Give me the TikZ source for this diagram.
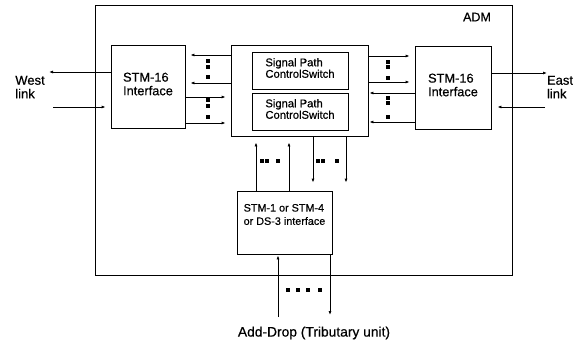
\documentclass[tikz,border=0pt]{standalone}
\usepackage{fontspec}
\setmainfont{Liberation Sans}[FakeBold=0.5]
\usetikzlibrary{arrows.meta}
\begin{document}
\begin{tikzpicture}[x=1pt,y=-1pt, line width=0.8pt,
  box/.style={draw, rectangle, inner sep=0pt},
  txt/.style={align=left, inner sep=0pt},
  stmtext/.style={txt, font=\fontsize{12.8}{13.6}\selectfont},
  sptext/.style={txt, font=\fontsize{11.2}{11.5}\selectfont},
  tribtext/.style={txt, font=\fontsize{10.8}{13.3}\selectfont},
  lbl/.style={txt, font=\fontsize{13}{13.5}\selectfont},
  arr/.style={-{Latex[length=4pt,width=3pt]}},
  dotm/.style={fill, rectangle, minimum size=3.2pt, inner sep=0pt}
]
\useasboundingbox (0,0) rectangle (579,343);
% boxes
\node[box, minimum width=417pt, minimum height=270pt] (adm) at (303.5,140) {};
\node[txt, font=\fontsize{12.5}{13}\selectfont] (admlabel) at (477,17) {ADM};
\node[box, minimum width=74pt, minimum height=83pt] (L) at (148,86.5) {};
\node[stmtext, yshift=2.5pt] (Ltxt) at (L) {STM-16\\Interface};
\node[box, minimum width=137pt, minimum height=91pt] (C) at (299.5,90.5) {};
\node[box, minimum width=96pt, minimum height=37pt] (T1) at (300,70.5) {};
\node[sptext, yshift=2.5pt] (T1txt) at (T1) {Signal Path\\ControlSwitch};
\node[box, minimum width=96pt, minimum height=37pt] (T2) at (300,111.5) {};
\node[sptext, yshift=2.5pt] (T2txt) at (T2) {Signal Path\\ControlSwitch};
\node[box, minimum width=76pt, minimum height=83pt] (R) at (453,87.5) {};
\node[stmtext, yshift=2.5pt] (Rtxt) at (R) {STM-16\\Interface};
\node[box, minimum width=95pt, minimum height=63pt] (B) at (284.5,222.5) {};
\node[tribtext, yshift=8pt] (Btxt) at (B) {STM-1 or STM-4\\or DS-3 interface};
% outside labels
\node[lbl] (west) at (30,87) {West\\link};
\node[lbl] (east) at (560,87) {East\\link};
\node[txt, font=\fontsize{13.8}{14}\selectfont] (adddrop) at (314,333) {Add-Drop (Tributary unit)};
% free ends
\coordinate (wout) at (49,72);
\coordinate (win) at (53,107);
\coordinate (eout) at (547,73);
\coordinate (ein) at (545,107);
\coordinate (aup) at (278,317);
\coordinate (adown) at (330,315);
% west link
\draw[arr] (L.west |- 0,72) -- (wout);
\draw[arr, shorten >=5pt] (win) -- (L.west |- 0,107);
% L <-> C
\draw[arr, shorten >=5pt] (C.west |- 0,55) -- (L.east |- 0,55);
\draw[arr, shorten >=5pt] (C.west |- 0,83) -- (L.east |- 0,83);
\draw[arr, shorten >=5pt] (L.east |- 0,97) -- (C.west |- 0,97);
\draw[arr, shorten >=5pt] (L.east |- 0,123) -- (C.west |- 0,123);
\foreach \y in {61,67,77,100,106,117} \node[dotm] at (208,\y) {};
% C <-> R
\draw[arr, shorten >=5pt] (C.east |- 0,56) -- (R.west |- 0,56);
\draw[arr, shorten >=5pt] (C.east |- 0,82) -- (R.west |- 0,82);
\draw[arr, shorten >=1pt] (R.west |- 0,93) -- (C.east |- 0,93);
\draw[arr, shorten >=1pt] (R.west |- 0,122) -- (C.east |- 0,122);
\foreach \y in {62,67,78,98,103,117} \node[dotm] at (388,\y) {};
% east link
\draw[arr] (R.east |- 0,73) -- (eout);
\draw[arr, shorten >=6pt] (ein) -- (R.east |- 0,107);
% C <-> B
\draw[arr, shorten >=6pt] (B.north -| 256,0) -- (C.south -| 256,0);
\draw[arr, shorten >=6pt] (B.north -| 289,0) -- (C.south -| 289,0);
\draw[arr, shorten >=8pt] (C.south -| 313,0) -- (B.north -| 313,0);
\draw[arr, shorten >=8pt] (C.south -| 346,0) -- (B.north -| 346,0);
\foreach \x in {262,267,278,318,323,337} \node[dotm] at (\x,161) {};
% add-drop
\draw[arr, shorten >=1pt] (aup) -- (B.south -| 278,0);
\draw[arr] (B.south -| 330,0) -- (adown);
\foreach \x in {288,298,308,320} \node[dotm] at (\x,290) {};
\end{tikzpicture}
\end{document}
